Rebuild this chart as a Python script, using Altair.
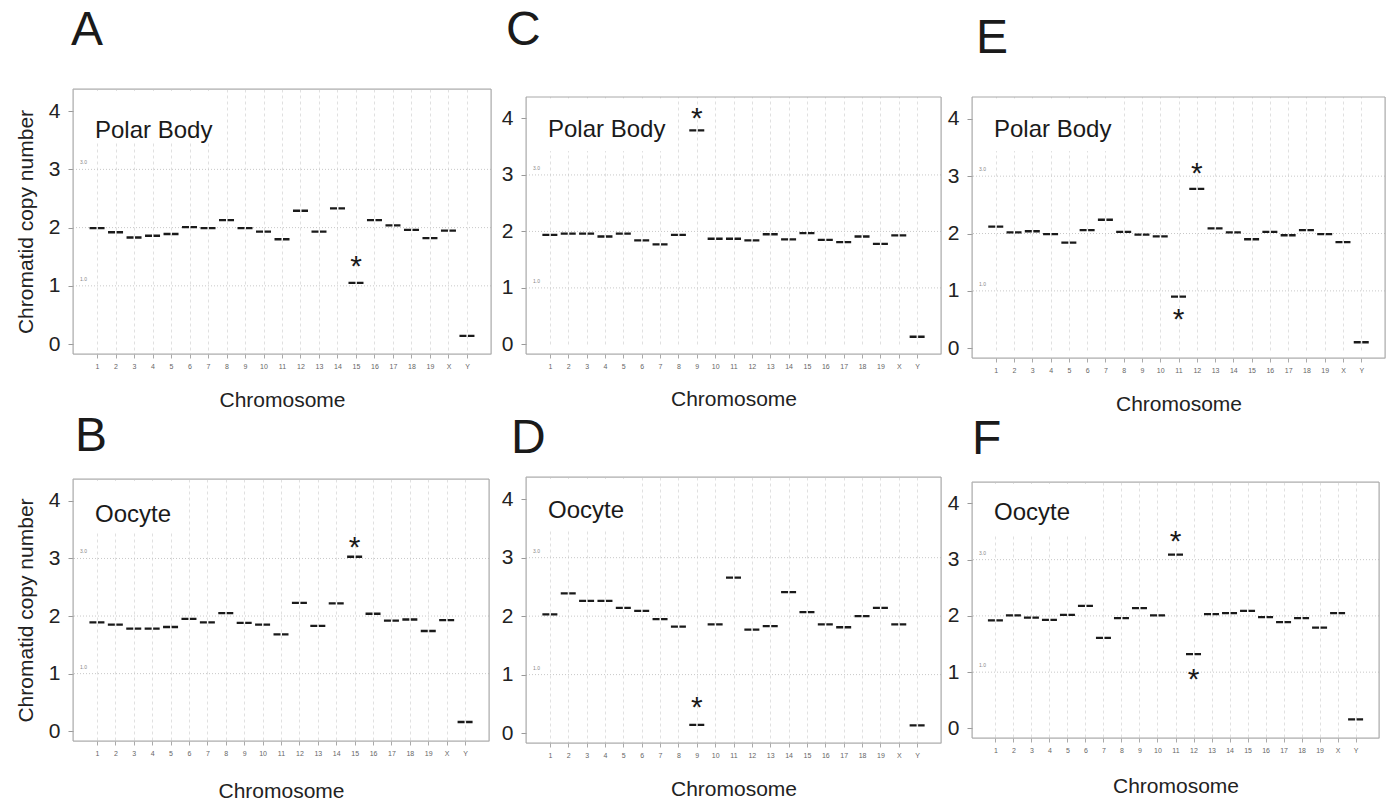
import altair as alt
import pandas as pd

CHROMS = [str(i) for i in range(1, 20)] + ["X", "Y"]
POS = list(range(1, 22))

# Chromatid copy number per chromosome
A_VALUES = [1.99, 1.92, 1.83, 1.86, 1.89, 2.01, 1.99, 2.13, 1.99, 1.93, 1.80,
            2.29, 1.93, 2.33, 1.05, 2.13, 2.04, 1.96, 1.82, 1.95, 0.14]
B_VALUES = [1.89, 1.85, 1.78, 1.78, 1.81, 1.95, 1.89, 2.05, 1.88, 1.85, 1.68,
            2.23, 1.83, 2.22, 3.03, 2.04, 1.92, 1.94, 1.74, 1.93, 0.16]
C_VALUES = [1.94, 1.96, 1.96, 1.91, 1.96, 1.84, 1.77, 1.94, 3.79, 1.87, 1.87,
            1.84, 1.95, 1.86, 1.97, 1.85, 1.81, 1.91, 1.78, 1.93, 0.135]
D_VALUES = [2.03, 2.39, 2.26, 2.26, 2.14, 2.09, 1.95, 1.82, 0.14, 1.86, 2.66,
            1.77, 1.83, 2.41, 2.07, 1.86, 1.81, 2.00, 2.14, 1.86, 0.13]
E_VALUES = [2.12, 2.02, 2.04, 1.99, 1.84, 2.06, 2.24, 2.03, 1.98, 1.95, 0.90,
            2.78, 2.09, 2.02, 1.90, 2.03, 1.97, 2.06, 1.99, 1.85, 0.105]
F_VALUES = [1.92, 2.01, 1.97, 1.93, 2.02, 2.18, 1.61, 1.96, 2.14, 2.01, 3.09,
            1.32, 2.03, 2.05, 2.09, 1.98, 1.89, 1.96, 1.79, 2.05, 0.16]

# asterisk annotations: chromosome position and height
A_STAR_POS, A_STAR_Y = [15], [1.44]
B_STAR_POS, B_STAR_Y = [15], [3.30]
C_STAR_POS, C_STAR_Y = [9], [4.12]
D_STAR_POS, D_STAR_Y = [9], [0.55]
E_STAR_POS, E_STAR_Y = [12, 11], [3.16, 0.61]
F_STAR_POS, F_STAR_Y = [11, 12], [3.43, 0.98]

REF_LINES = [1.0, 2.0, 3.0]
REF_LABEL_VALUES = [1.0, 3.0]
REF_LABELS = ["1.0", "3.0"]
Y_TICKS = [0, 1, 2, 3, 4]

FONT = "Liberation Sans"
Y_DOMAIN = [-0.17, 4.38]
xscale = alt.Scale(domain=[-0.3, 22.3], nice=False, zero=False)
label_expr = "[" + ",".join("'%s'" % c for c in CHROMS) + "][datum.value - 1]"


def panel(letter, label, values, star_pos, star_y, width, height, top, ytitle,
          tdx, toffset, label_y, box_w, xtitle_pad):
    yscale = alt.Scale(domain=Y_DOMAIN, range=[height, top], nice=False, zero=False)
    df = pd.DataFrame({"chrom": CHROMS, "pos": POS, "value": values})
    xaxis = alt.Axis(values=POS, labelExpr=label_expr, grid=True,
                     gridDash=[3, 3], gridColor="#e0e0e0", domain=False,
                     tickSize=4, tickColor="#aaaaaa", labelFontSize=7,
                     labelColor="#666666", labelFont=FONT, labelPadding=4,
                     labelOverlap=False, labelBound=False, labelFlush=False,
                     title="Chromosome", titleFontSize=21,
                     titleFontWeight="normal", titleFont=FONT,
                     titleColor="#222222", titlePadding=xtitle_pad)
    yargs = dict(values=Y_TICKS, format="d", grid=False, domain=False,
                 tickSize=5, tickColor="#999999", labelFontSize=21,
                 labelFont=FONT, labelColor="#222222", labelPadding=8)
    if ytitle:
        yaxis = alt.Axis(title="Chromatid copy number", titleFontSize=21,
                         titleFontWeight="normal", titleFont=FONT,
                         titleColor="#222222", titlePadding=12, **yargs)
    else:
        yaxis = alt.Axis(title=None, **yargs)

    one = pd.DataFrame({"t": [label]})
    strip = alt.Chart(one).mark_rect(color="white").encode(
        x=alt.value(-1), x2=alt.value(width + 1), y=alt.value(-1), y2=alt.value(top))
    box = alt.Chart(one).mark_rect(color="white").encode(
        x=alt.value(6), x2=alt.value(box_w), y=alt.value(top + 2), y2=alt.value(top + 54))
    hlines = alt.Chart(pd.DataFrame({"y": REF_LINES})).mark_rule(
        color="#c8c8c8", strokeDash=[1, 2], strokeWidth=1).encode(
        y=alt.Y("y:Q", scale=yscale, axis=yaxis))
    reflab = alt.Chart(pd.DataFrame({"y": REF_LABEL_VALUES, "lab": REF_LABELS})).mark_text(
        fontSize=5, color="#888888", align="left", dy=-7, font=FONT).encode(
        x=alt.value(7), y=alt.Y("y:Q", scale=yscale), text="lab:N")
    segs = alt.Chart(df).mark_rule(
        color="#1a1a1a", strokeWidth=2.3, strokeDash=[7, 1.5],
        xOffset=-7.5, x2Offset=7.5).encode(
        x=alt.X("pos:Q", scale=xscale, axis=xaxis),
        x2="pos:Q",
        y=alt.Y("value:Q", scale=yscale))
    stars = alt.Chart(pd.DataFrame({"pos": star_pos, "y": star_y})).mark_text(
        text="*", fontSize=30, font=FONT, color="#1a1a1a", dy=7).encode(
        x=alt.X("pos:Q", scale=xscale, axis=xaxis), y=alt.Y("y:Q", scale=yscale))
    lab = alt.Chart(one).mark_text(
        align="left", baseline="alphabetic", fontSize=24, font=FONT,
        color="#1a1a1a").encode(x=alt.value(22), y=alt.value(top + label_y), text="t:N")
    frame = alt.Chart(one).mark_rect(
        fill="white", fillOpacity=0, stroke="#a8a8a8", strokeWidth=1).encode(
        x=alt.value(0), x2=alt.value(width), y=alt.value(top), y2=alt.value(height))

    return alt.layer(strip, box, hlines, reflab, segs, stars, lab, frame).properties(
        width=width, height=height,
        title=alt.TitleParams(letter, anchor="start", frame="group",
                              fontSize=48, font=FONT, fontWeight="normal",
                              color="#1a1a1a", baseline="alphabetic",
                              dx=tdx, offset=toffset))


pA = panel("A", "Polar Body", A_VALUES, A_STAR_POS, A_STAR_Y, 418, 265, 0, True, -2, -5, 49, 150, 20)
pB = panel("B", "Oocyte", B_VALUES, B_STAR_POS, B_STAR_Y, 416, 262, 0, True, 2, -21, 43, 115, 24)
pC = panel("C", "Polar Body", C_VALUES, C_STAR_POS, C_STAR_Y, 415, 265, 8, False, -20, -5, 40, 150, 19)
pD = panel("D", "Oocyte", D_VALUES, D_STAR_POS, D_STAR_Y, 415, 266, 0, False, -15, -25, 41, 115, 20)
pE = panel("E", "Polar Body", E_VALUES, E_STAR_POS, E_STAR_Y, 413, 269, 8, False, 4, -13, 40, 150, 20)
pF = panel("F", "Oocyte", F_VALUES, F_STAR_POS, F_STAR_Y, 407, 256, 0, False, 0, -21, 38, 115, 22)

left_cols = alt.hconcat(
    alt.vconcat(pA, pB, spacing=1),
    alt.vconcat(pC, pD, spacing=4),
    spacing=7,
)
chart = alt.hconcat(
    left_cols,
    alt.vconcat(pE, pF, spacing=0),
    spacing=3,
).properties(
    padding={"left": 14, "top": 6, "right": 0, "bottom": 0}
).configure_view(
    stroke=None, fill="#fbfbfb"
).configure_axis(
    labelOverlap=False
).configure(background="white")

chart.save("out.html", embed_options={"renderer": "svg", "actions": False})
